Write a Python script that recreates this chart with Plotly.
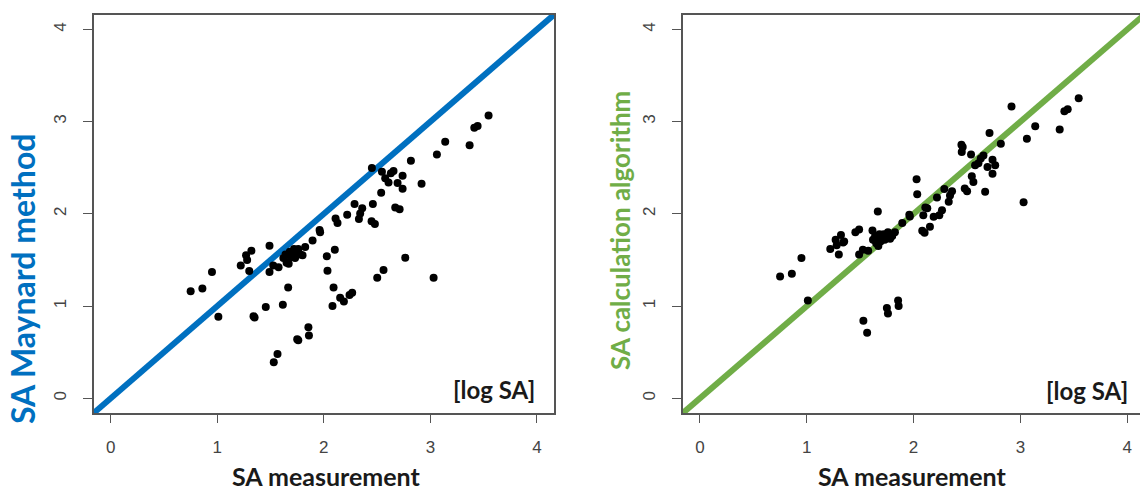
import plotly.graph_objects as go

# SA measurement (log) shared by both panels
sa_measurement = [0.75, 0.86, 0.95, 1.01, 1.22, 1.27, 1.28, 1.30, 1.32, 1.34, 1.35,
                  1.455, 1.49, 1.49, 1.525, 1.53, 1.565, 1.575, 1.615,
                  1.62, 1.64, 1.65, 1.665, 1.67, 1.68, 1.69, 1.70, 1.72, 1.73, 1.74, 1.76, 1.78,
                  1.75, 1.76, 1.855, 1.86,
                  1.80, 1.825, 1.894, 1.96, 1.965, 2.028, 2.034, 2.081, 2.091, 2.103,
                  2.110, 2.128, 2.153, 2.188, 2.219, 2.241, 2.266, 2.288, 2.329, 2.341,
                  2.36, 2.448, 2.451, 2.46, 2.479, 2.501, 2.538, 2.545, 2.56, 2.576,
                  2.607, 2.629, 2.654, 2.67, 2.692, 2.711, 2.739, 2.739, 2.764, 2.817,
                  2.917, 3.03, 3.061, 3.139, 3.368, 3.412, 3.443, 3.546]

# SA by Maynard method (log)
sa_maynard = [1.16, 1.19, 1.37, 0.885, 1.44, 1.55, 1.50, 1.38, 1.60, 0.89, 0.875,
              0.99, 1.655, 1.37, 1.44, 0.39, 0.48, 1.42, 1.015,
              1.52, 1.56, 1.47, 1.20, 1.46, 1.59, 1.53, 1.54, 1.62, 1.52, 1.58, 1.62, 1.56,
              0.64, 0.63, 0.77, 0.68,
              1.55, 1.64, 1.71, 1.825, 1.80, 1.54, 1.384, 1.00, 1.20, 1.61,
              1.95, 1.90, 1.09, 1.05, 1.99, 1.12, 1.145, 2.107, 1.944, 2.005,
              2.06, 1.92, 2.497, 2.107, 1.89, 1.308, 2.229, 2.457, 1.391, 2.385,
              2.341, 2.439, 2.464, 2.07, 2.334, 2.049, 2.414, 2.273, 1.525, 2.576,
              2.327, 1.308, 2.645, 2.782, 2.743, 2.934, 2.952, 3.068]

# SA by calculation algorithm (log)
sa_algorithm = [1.32, 1.35, 1.52, 1.06, 1.62, 1.72, 1.66, 1.56, 1.77, 1.69, 1.70,
                1.80, 1.83, 1.56, 1.61, 0.84, 0.71, 1.60, 1.82,
                1.72, 1.76, 1.68, 2.025, 1.65, 1.78, 1.70, 1.74, 1.78, 1.72, 1.76, 1.80, 1.73,
                0.98, 0.92, 1.06, 1.00,
                1.76, 1.80, 1.90, 1.99, 1.97, 2.375, 2.213, 1.816, 1.986, 1.795,
                2.068, 2.06, 1.859, 1.968, 2.177, 1.986, 2.04, 2.27, 2.13, 2.20,
                2.245, 2.75, 2.67, 2.724, 2.274, 2.245, 2.645, 2.407, 2.346, 2.526,
                2.55, 2.60, 2.634, 2.241, 2.508, 2.876, 2.587, 2.436, 2.526, 2.76,
                3.164, 2.126, 2.814, 2.951, 2.915, 3.114, 3.135, 3.254]

identity = [-0.5, 4.5]
tick_vals = [0, 1, 2, 3, 4]
tick_text = ["0", "1", "2", "3", "4"]

W, H = 1140, 492

fig = go.Figure()

fig.add_trace(go.Scatter(x=identity, y=identity, mode="lines",
                         line=dict(color="#0070C0", width=6),
                         xaxis="x", yaxis="y", showlegend=False, hoverinfo="skip"))
fig.add_trace(go.Scatter(x=sa_measurement, y=sa_maynard, mode="markers",
                         marker=dict(color="black", size=8),
                         xaxis="x", yaxis="y", showlegend=False))
fig.add_trace(go.Scatter(x=identity, y=identity, mode="lines",
                         line=dict(color="#70AD47", width=6),
                         xaxis="x2", yaxis="y2", showlegend=False, hoverinfo="skip"))
fig.add_trace(go.Scatter(x=sa_measurement, y=sa_algorithm, mode="markers",
                         marker=dict(color="black", size=8),
                         xaxis="x2", yaxis="y2", showlegend=False))

tick_font = dict(family="Liberation Sans, Arial, sans-serif", size=17, color="#444444")

def xax(domain, rng, anchor):
    return dict(domain=domain, range=rng, anchor=anchor, showgrid=False, zeroline=False,
                showline=True, mirror=True, linecolor="#555555", linewidth=1.5,
                ticks="outside", ticklen=8, tickwidth=1.2, tickcolor="#555555",
                tickvals=tick_vals, ticktext=tick_text, tickfont=tick_font,
                ticklabelstandoff=10)

def yax(domain, rng, anchor, mirror):
    return dict(domain=domain, range=rng, anchor=anchor, showgrid=False, zeroline=False,
                showline=True, mirror=mirror, linecolor="#555555", linewidth=1.5,
                ticks="outside", ticklen=9, tickwidth=1.2, tickcolor="#555555",
                tickvals=tick_vals, ticktext=tick_text, tickfont=tick_font,
                tickangle=-90, ticklabelstandoff=10)

ydom = [(H - 413) / H, (H - 14.7) / H]

bold_family = "Lato, Open Sans, sans-serif"

fig.update_layout(
    width=W, height=H,
    margin=dict(l=0, r=0, t=0, b=0),
    paper_bgcolor="white", plot_bgcolor="white",
    xaxis=xax([93.7 / W, 554 / W], [-0.16, 4.16], "y"),
    yaxis=yax(ydom, [-0.16, 4.16], "x", True),
    xaxis2=xax([682.9 / W, 1.0], [-0.16, 4.12], "y2"),
    yaxis2=yax(ydom, [-0.16, 4.16], "x2", False),
    annotations=[
        dict(text="<b>SA measurement</b>", x=326 / W, y=0, xref="paper", yref="paper",
             showarrow=False, xanchor="center", yanchor="bottom", borderpad=0,
             font=dict(color="#1a1a1a", family=bold_family, size=25)),
        dict(text="<b>SA measurement</b>", x=912 / W, y=0, xref="paper", yref="paper",
             showarrow=False, xanchor="center", yanchor="bottom", borderpad=0,
             font=dict(color="#1a1a1a", family=bold_family, size=25)),
        dict(text="<b>SA Maynard method</b>", x=22 / W, y=(H - 279) / H, xref="paper", yref="paper",
             showarrow=False, xanchor="center", yanchor="middle", textangle=-90,
             font=dict(color="#0070C0", family=bold_family, size=32)),
        dict(text="<b>SA calculation algorithm</b>", x=620 / W, y=(H - 231) / H, xref="paper", yref="paper",
             showarrow=False, xanchor="center", yanchor="middle", textangle=-90,
             font=dict(color="#70AD47", family=bold_family, size=26)),
        dict(text="<b>[log SA]</b>", x=4.0, y=0.1, xref="x", yref="y",
             showarrow=False, xanchor="right", yanchor="middle",
             font=dict(color="#1a1a1a", family=bold_family, size=24)),
        dict(text="<b>[log SA]</b>", x=4.03, y=0.08, xref="x2", yref="y2",
             showarrow=False, xanchor="right", yanchor="middle",
             font=dict(color="#1a1a1a", family=bold_family, size=24)),
    ],
)

fig.write_html("out.html", config={"displayModeBar": False},
               post_script="document.body.style.margin='0';document.body.style.overflow='hidden';")
